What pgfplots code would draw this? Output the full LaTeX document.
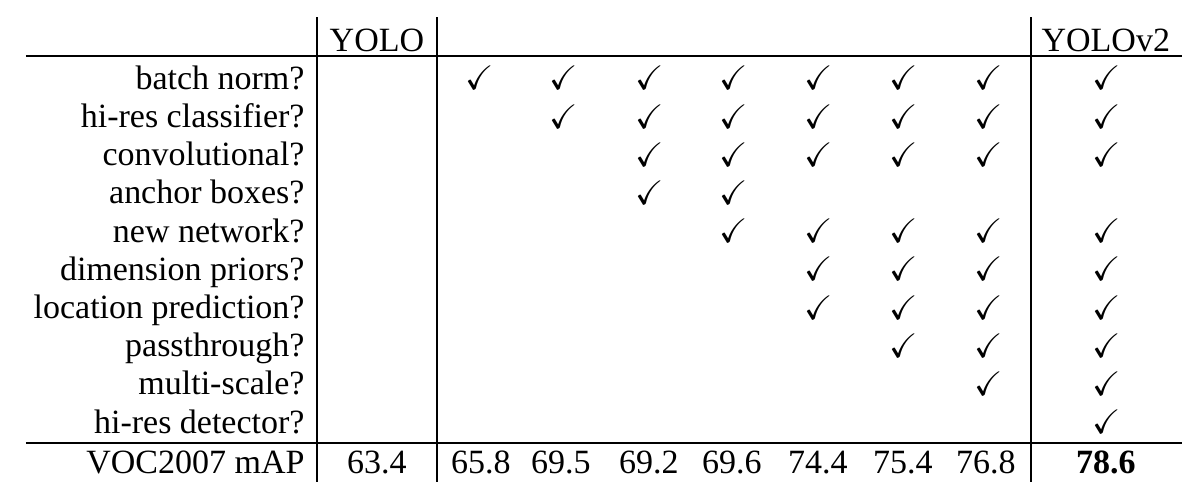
\documentclass[border=0pt]{standalone}
\usepackage{amssymb}
\usepackage{fontspec}
\setmainfont{Liberation Serif}
\usepackage{pgfplots}
\pgfplotsset{compat=1.18}

\newcommand{\tabfont}{\fontsize{17pt}{20pt}\selectfont}

\begin{document}
\begin{tikzpicture}[font=\tabfont]
% x in pixels of the original, y in table rows (0 = header)
\begin{axis}[
    scale only axis,
    width=445pt, height=242pt,
    xmin=305, xmax=1195,
    ymin=-1.047, ymax=11.623,
    y dir=reverse,
    clip=false,
    axis line style={draw=none},
    major tick length=0pt,
    xtick=\empty,
    ytick={1,2,3,4,5,6,7,8,9,10,11.05},
    yticklabels={batch norm?, hi-res classifier?, convolutional?, anchor boxes?,
        new network?, dimension priors?, location prediction?, passthrough?,
        multi-scale?, hi-res detector?, VOC2007 mAP},
    yticklabel style={anchor=base east, inner sep=0pt, yshift=-5.6pt, font=\tabfont},
]
% page extent
\path (axis cs:0,-1.047) rectangle (axis cs:1195,11.623);

% rules
\draw[line width=0.8pt] (axis cs:26,0.419) -- (axis cs:1182,0.419);
\draw[line width=0.8pt] (axis cs:26,10.55) -- (axis cs:1182,10.55);
\draw[line width=0.8pt] (axis cs:317,-0.602) -- (axis cs:317,11.57);
\draw[line width=0.8pt] (axis cs:437,-0.602) -- (axis cs:437,11.57);
\draw[line width=0.8pt] (axis cs:1031,-0.602) -- (axis cs:1031,11.57);

% headers
\node[anchor=base, inner sep=0pt, yshift=-5.6pt] at (axis cs:377,0) {YOLO};
\node[anchor=base, inner sep=0pt, yshift=-5.6pt] at (axis cs:1106,0) {YOLOv2};

% check marks
\addplot[only marks, mark=text, text mark={\tabfont$\checkmark$}]
    coordinates {
        (480,1)
        (564,1) (564,2)
        (650,1) (650,2) (650,3) (650,4)
        (734,1) (734,2) (734,3) (734,4) (734,5)
        (819,1) (819,2) (819,3) (819,5) (819,6) (819,7)
        (904,1) (904,2) (904,3) (904,5) (904,6) (904,7) (904,8)
        (989,1) (989,2) (989,3) (989,5) (989,6) (989,7) (989,8) (989,9)
        (1107,1) (1107,2) (1107,3) (1107,5) (1107,6) (1107,7) (1107,8) (1107,9) (1107,10)
    };

% mAP row
\addplot[draw=none, mark=none, nodes near coords, point meta=explicit symbolic,
    nodes near coords align={center},
    every node near coord/.append style={anchor=base, inner sep=0pt, yshift=-5.6pt, font=\tabfont}]
    coordinates {
        (377,11.05) [63.4]
        (481,11.05) [65.8]
        (561,11.05) [69.5]
        (649,11.05) [69.2]
        (732,11.05) [69.6]
        (818,11.05) [74.4]
        (903,11.05) [75.4]
        (986,11.05) [76.8]
    };
\addplot[draw=none, mark=none, nodes near coords, point meta=explicit symbolic,
    nodes near coords align={center},
    every node near coord/.append style={anchor=base, inner sep=0pt, yshift=-5.6pt, font=\tabfont\bfseries}]
    coordinates {
        (1106,11.05) [78.6]
    };
\end{axis}
\end{tikzpicture}
\end{document}
